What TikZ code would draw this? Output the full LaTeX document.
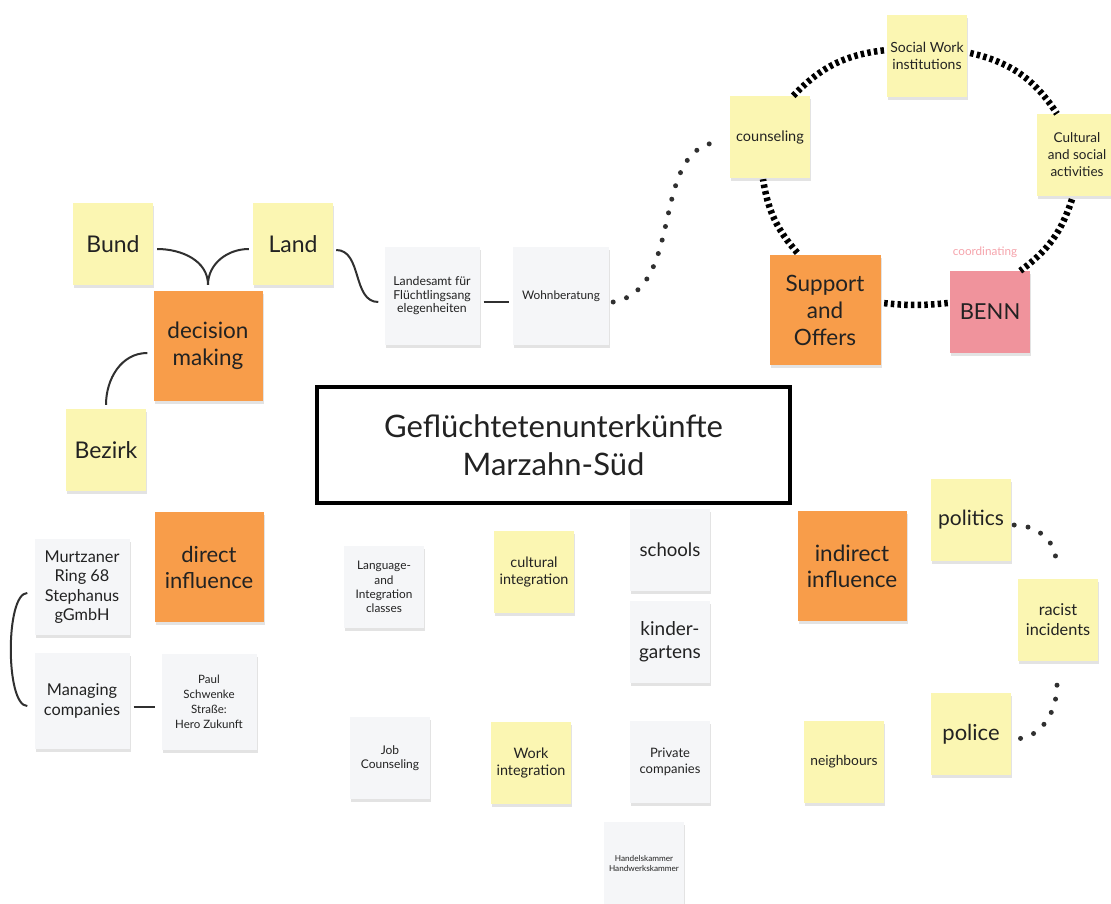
\documentclass[tikz,border=0pt]{standalone}
\usepackage{fontspec}
\setmainfont{Lato}
\usepackage{tikz}
\usetikzlibrary{shadows}
\definecolor{noteyellow}{HTML}{FBF6B2}
\definecolor{noteorange}{HTML}{F89D4A}
\definecolor{notepink}{HTML}{F0939C}
\definecolor{notegray}{HTML}{F5F6F8}
\definecolor{notetext}{HTML}{222222}
\definecolor{coordpink}{HTML}{F5A3AB}
\definecolor{linkgray}{HTML}{303030}
\newcommand{\notesize}[2]{\fontsize{#1}{#2}\selectfont}

\begin{document}
\begin{tikzpicture}[x=1pt,y=-1pt,
  note/.style={minimum width=80pt,minimum height=82pt,inner sep=1pt,align=center,text=notetext,
    drop shadow={shadow xshift=1pt,shadow yshift=-2.5pt,opacity=0.22}},
  yellownote/.style={note,fill=noteyellow},
  graynote/.style={note,fill=notegray},
  bignote/.style={note,fill=noteorange,minimum width=109pt,minimum height=110pt},
  link/.style={line width=2pt,draw=linkgray},
  dots/.style={line width=5pt,line cap=round,dash pattern=on 0pt off 14pt,draw=linkgray},
  ring/.style={line width=6.5pt,dash pattern=on 3.5pt off 3.2pt,draw=black}]
\useasboundingbox (0,0) rectangle (1111,903);

\node[yellownote,font=\notesize{23}{27}] (bund) at (113,244) {Bund};
\node[yellownote,font=\notesize{23}{27}] (land) at (293,244) {Land};
\node[bignote,font=\notesize{22.5}{27.5}] (decision) at (208,346) {decision\\making};
\node[yellownote,font=\notesize{23}{27}] (bezirk) at (106,450) {Bezirk};
\node[graynote,minimum width=95pt,minimum height=98pt,font=\notesize{12.3}{13.5}] (lageso) at (432,296) {Landesamt für\\Flüchtlingsang\\elegenheiten};
\node[graynote,minimum width=96pt,minimum height=98pt,font=\notesize{11.8}{13.5}] (wohn) at (561,296) {Wohnberatung};
\node[yellownote,font=\notesize{14.5}{17}] (counseling) at (770,137) {counseling};
\node[yellownote,font=\notesize{14}{16.5}] (socialwork) at (927,56) {Social Work\\institutions};
\node[yellownote,font=\notesize{13.5}{17}] (cultural) at (1077,155) {Cultural\\and social\\activities};
\node[bignote,minimum width=111pt,font=\notesize{22.5}{27}] (support) at (825,310) {Support\\and\\Offers};
\node[note,fill=notepink,font=\notesize{22}{26}] (benn) at (990,312) {BENN};
\node[text=coordpink,font=\notesize{11.7}{13}] (coord) at (985,252) {coordinating};

\node[draw,line width=4pt,minimum width=473pt,minimum height=116pt,align=center,text=notetext,font=\notesize{31}{38}] (title) at (553.5,445) {Geflüchtetenunterkünfte\\Marzahn-Süd};

\node[bignote,font=\notesize{22}{26}] (direct) at (209,567) {direct\\influence};
\node[graynote,minimum width=95pt,minimum height=96pt,font=\notesize{16.3}{19.5}] (murtzaner) at (82,587) {Murtzaner\\Ring 68\\Stephanus\\gGmbH};
\node[graynote,minimum width=95pt,minimum height=96pt,font=\notesize{16.3}{19.5}] (managing) at (82,701) {Managing\\companies};
\node[graynote,minimum width=95pt,minimum height=96pt,font=\notesize{11.5}{15}] (paul) at (209,702) {Paul\\Schwenke\\Straße:\\Hero Zukunft};

\node[graynote,font=\notesize{11.8}{14.2}] (language) at (384,587) {Language-\\and\\Integration\\classes};
\node[yellownote,font=\notesize{14.4}{17}] (culturalint) at (534,572) {cultural\\integration};
\node[graynote,font=\notesize{18.6}{23}] (schools) at (670,550) {schools};
\node[graynote,font=\notesize{19}{23}] (kinder) at (670,642) {kinder-\\gartens};
\node[graynote,font=\notesize{12}{14}] (job) at (390,758) {Job\\Counseling};
\node[yellownote,font=\notesize{14.4}{17}] (work) at (531,763) {Work\\integration};
\node[graynote,font=\notesize{13}{15.5}] (private) at (670,762) {Private\\companies};
\node[graynote,font=\notesize{8.2}{10}] (kammer) at (644,863) {Handelskammer\\Handwerkskammer};

\node[bignote,font=\notesize{22.5}{26}] (indirect) at (852,566) {indirect\\influence};
\node[yellownote,font=\notesize{21}{25}] (politics) at (971,520) {politics};
\node[yellownote,font=\notesize{16.3}{20}] (racist) at (1058,620) {racist\\incidents};
\node[yellownote,font=\notesize{22}{25}] (police) at (971,734) {police};
\node[yellownote,font=\notesize{13.8}{15}] (neighbours) at (844,762) {neighbours};

\draw[link] ([xshift=4pt,yshift=-5pt]bund.east) to[out=0,in=90] ([yshift=6pt]decision.north);
\draw[link] ([xshift=-4pt,yshift=-5pt]land.west) to[out=180,in=90] ([yshift=6pt]decision.north);
\draw[link] ([xshift=-6pt,yshift=-7pt]decision.west) to[out=180,in=90] ([yshift=4pt]bezirk.north);
\draw[link] ([xshift=3pt,yshift=-6pt]land.east) to[out=0,in=180] ([xshift=-6pt,yshift=-6pt]lageso.west);
\draw[link] ([xshift=4pt,yshift=-6pt]lageso.east) -- ([xshift=-4pt,yshift=-6pt]wohn.west);
\draw[dots] ([xshift=4pt,yshift=-6pt]wohn.east) to[out=10,in=180] ([xshift=-7pt,yshift=-5pt]counseling.west);

\draw[ring] ([xshift=-17pt]counseling.north east) to[bend left=20] ([yshift=6pt]socialwork.west);
\draw[ring] ([xshift=3pt,yshift=3pt]socialwork.east) to[bend left=22] ([xshift=-20pt]cultural.north);
\draw[ring] ([xshift=-5pt,yshift=-3pt]cultural.south) to[bend left=18] ([xshift=-10pt]benn.north east);
\draw[ring] ([xshift=-2pt,yshift=9pt]benn.west) to[bend left=6] ([xshift=2pt,yshift=7pt]support.east);
\draw[ring] ([xshift=28pt,yshift=2pt]support.north west) to[bend left=16] ([xshift=-7pt,yshift=-1pt]counseling.south);

\draw[link] ([xshift=-7pt,yshift=-6pt]murtzaner.west) to[out=180,in=180,looseness=0.5] ([xshift=-7pt,yshift=-5pt]managing.west);
\draw[link] ([xshift=4pt,yshift=-6pt]managing.east) -- ([xshift=-6pt,yshift=-5pt]paul.west);

\draw[dots] ([xshift=3pt,yshift=-5pt]politics.east) to[out=0,in=90] ([xshift=-2pt,yshift=17pt]racist.north);
\draw[dots] ([xshift=-1pt,yshift=-24pt]racist.south) to[out=-90,in=0] ([xshift=3pt,yshift=-5pt]police.east);
\end{tikzpicture}
\end{document}
